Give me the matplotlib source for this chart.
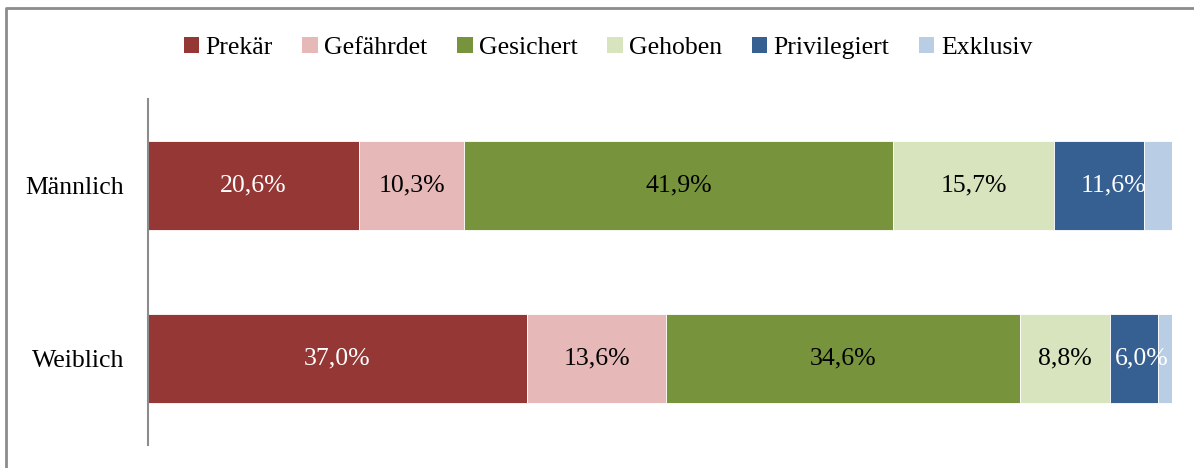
import matplotlib
matplotlib.use("Agg")
import matplotlib.pyplot as plt
from matplotlib.lines import Line2D
from matplotlib.patches import Patch

plt.rcParams['font.family'] = ['Liberation Serif', 'DejaVu Serif']

groups = ["Männlich", "Weiblich"]
categories = ["Prekär", "Gefährdet", "Gesichert", "Gehoben", "Privilegiert", "Exklusiv"]
# bar lengths (percent)
values = {
    "Prekär": [20.6, 37.0],
    "Gefährdet": [10.3, 13.6],
    "Gesichert": [41.9, 34.6],
    "Gehoben": [15.7, 8.7],
    "Privilegiert": [8.8, 4.7],
    "Exklusiv": [2.7, 1.5],
}
# printed labels (Privilegiert label covers Privilegiert + Exklusiv)
labels = {
    "Prekär": ["20,6%", "37,0%"],
    "Gefährdet": ["10,3%", "13,6%"],
    "Gesichert": ["41,9%", "34,6%"],
    "Gehoben": ["15,7%", "8,8%"],
    "Privilegiert": ["11,6%", "6,0%"],
}
colors = ["#953735", "#E6B9B8", "#77933C", "#D7E4BD", "#376092", "#B9CDE5"]
label_colors = ["white", "black", "black", "black", "white"]

fig = plt.figure(figsize=(11.94, 4.68), dpi=100)
ax = fig.add_axes([148 / 1194, 23 / 468, 1024 / 1194, 346 / 468])

ypos = [1, 0]
left = [0.0, 0.0]
for i, cat in enumerate(categories):
    ax.barh(ypos, values[cat], left=left, height=0.515, color=colors[i],
            edgecolor="white", linewidth=0.6, label=cat)
    if cat in labels:
        for j in range(len(groups)):
            w = values[cat][j]
            if cat == "Privilegiert":
                w += values["Exklusiv"][j]
            ax.text(left[j] + w / 2, ypos[j], labels[cat][j], ha="center",
                    va="center", fontsize=18.5, color=label_colors[i])
    left = [left[j] + values[cat][j] for j in range(len(groups))]

ax.set_xlim(0, 100)
ax.set_ylim(-0.5, 1.5)
ax.set_yticks(ypos)
ax.set_yticklabels(groups, fontsize=18.5)
ax.tick_params(axis="y", length=0, pad=17)
ax.set_xticks([])
for s in ["top", "right", "bottom"]:
    ax.spines[s].set_visible(False)
ax.spines["left"].set_color("#8c8c8c")
ax.spines["left"].set_linewidth(1.5)

handles = [Patch(facecolor=c, edgecolor="none") for c in colors]
fig.legend(handles, categories, loc="center", bbox_to_anchor=(608 / 1194, 1 - 48 / 468),
           ncol=6, frameon=False, fontsize=18.5, handlelength=0.6, handleheight=0.6,
           handletextpad=0.25, columnspacing=1.15)

# outer chart frame
fig.add_artist(Line2D([6 / 1194, 6 / 1194, 1.0], [0.0, 1 - 8 / 468, 1 - 8 / 468],
                      transform=fig.transFigure, color="#8c8c8c", linewidth=2))

fig.savefig("out.png", dpi=100)
